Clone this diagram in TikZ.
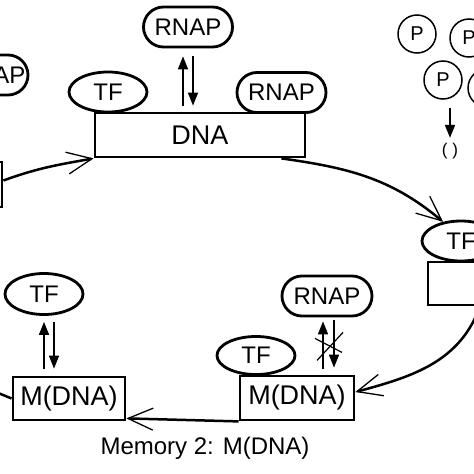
\documentclass[tikz,border=0pt]{standalone}
\usepackage{fontspec}
\setmainfont{Liberation Sans}
\usetikzlibrary{arrows.meta,shapes.geometric,calc}
\tikzset{
  pill/.style={draw, line width=2.8pt, rounded corners=20pt, minimum width=89pt,
    minimum height=40pt, inner sep=0pt, font=\fontsize{24}{28}\selectfont},
  tfnode/.style={draw, ellipse, line width=2.8pt, minimum width=78pt,
    minimum height=40pt, inner sep=0pt, font=\fontsize{24}{28}\selectfont},
  dnabox/.style={draw, line width=2.8pt, minimum height=44pt, inner sep=0pt,
    font=\fontsize{27}{32}\selectfont},
  pcirc/.style={draw, circle, line width=1.5pt, minimum size=38pt, inner sep=0pt,
    font=\fontsize{20}{24}\selectfont},
  bind/.style={line width=1.6pt, -{Triangle[length=13pt,width=10pt]}},
  flow/.style={line width=2.5pt, -{Straight Barb[length=25pt,width=22pt,line width'=1.3pt]}},
}
\begin{document}
\begin{tikzpicture}[x=1pt,y=1pt]
    \useasboundingbox (0,0) rectangle (474,-474);
    \clip (0,0) rectangle (474,-474);
    % top: DNA with its binders
    \node[pill] (rnapA) at (188,-27) {RNAP};
    \node[pill, minimum width=72pt] (rnapL) at (-8,-75) {RNAP};
    \node[tfnode] (tfA) at (108,-92) {TF};
    \node[pill] (rnapB) at (281.5,-92.5) {RNAP};
    \node[dnabox, minimum width=210pt] (dnaA) at (200,-135) {DNA};
    \node[dnabox, minimum width=114pt, minimum height=45pt] (boxL) at (-55,-184.5) {};
    \draw[bind, shorten <=6pt, shorten >=8pt] ($(dnaA.north -| rnapA.south)+(-5,0)$) -- ($(rnapA.south)+(-5,0)$);
    \draw[bind, shorten <=8pt, shorten >=6pt] ($(rnapA.south)+(5,0)$) -- ($(dnaA.north -| rnapA.south)+(5,0)$);
    % proteins
    \node[pcirc] (pA) at (417,-34) {P};
    \node[pcirc] (pB) at (469,-38) {P};
    \node[pcirc] (pC) at (443,-80) {P};
    \node[pcirc] (pD) at (487,-88) {P};
    \node[inner sep=0pt, font=\fontsize{17}{20}\selectfont] (sink) at (450,-151) {( )};
    \draw[bind, shorten <=8pt, shorten >=5pt] (sink.north |- pC.south) -- (sink.north);
    % right
    \node[tfnode] (tfR) at (461,-241) {TF};
    \node[dnabox, minimum width=210pt, minimum height=43pt] (boxR) at (533,-283.5) {};
    % bottom right
    \node[pill, minimum width=90pt] (rnapD) at (327,-296) {RNAP};
    \node[tfnode, minimum height=38pt] (tfC) at (256,-355.5) {TF};
    \node[dnabox, minimum width=114pt] (mdnaR) at (297,-398) {M(DNA)};
    \draw[bind, shorten <=6pt, shorten >=4pt] ($(mdnaR.north -| rnapD.south)+(-4,0)$) -- ($(rnapD.south)+(-4,0)$);
    \draw[bind, shorten <=3pt, shorten >=7pt] ($(rnapD.south)+(7,0)$) -- ($(mdnaR.north -| rnapD.south)+(7,0)$);
    \coordinate (xm) at ($(rnapD.south)+(2,-29)$);
    \draw[line width=1.2pt] ($(xm)+(-14,8)$) -- ($(xm)+(13,-6)$);
    \draw[line width=1.2pt] ($(xm)+(-12,-14)$) -- ($(xm)+(14,14)$);
    % bottom left
    \node[tfnode, minimum height=41pt] (tfD) at (44,-294) {TF};
    \node[dnabox, minimum width=112pt, minimum height=43pt] (mdnaL) at (69,-398.5) {M(DNA)};
    \draw[bind, shorten <=7pt, shorten >=6pt] (tfD.south |- mdnaL.north) -- (tfD.south);
    \draw[bind, shorten <=6pt, shorten >=7pt] ($(tfD.south)+(10,0)$) -- ($(tfD.south |- mdnaL.north)+(10,0)$);
    \coordinate (offL) at (-26,-383);
    \node[font=\fontsize{24}{28}\selectfont] (memTwo) at (205,-448) {Memory 2: M(DNA)};
    % cycle
    \draw[flow] ([yshift=4pt]boxL.east) to[out=20,in=190] (dnaA.south west);
    \draw[flow] ([xshift=-25pt]dnaA.south east) to[out=-8,in=140] (tfR.133);
    \draw[flow] ([xshift=-53pt]boxR.south) to[out=-110,in=15] ([yshift=6pt]mdnaR.east);
    \draw[flow] (mdnaR.south west) -- ([yshift=3pt]mdnaL.south east);
    \draw[line width=2.5pt] (mdnaL.west) -- (offL);
\end{tikzpicture}
\end{document}
